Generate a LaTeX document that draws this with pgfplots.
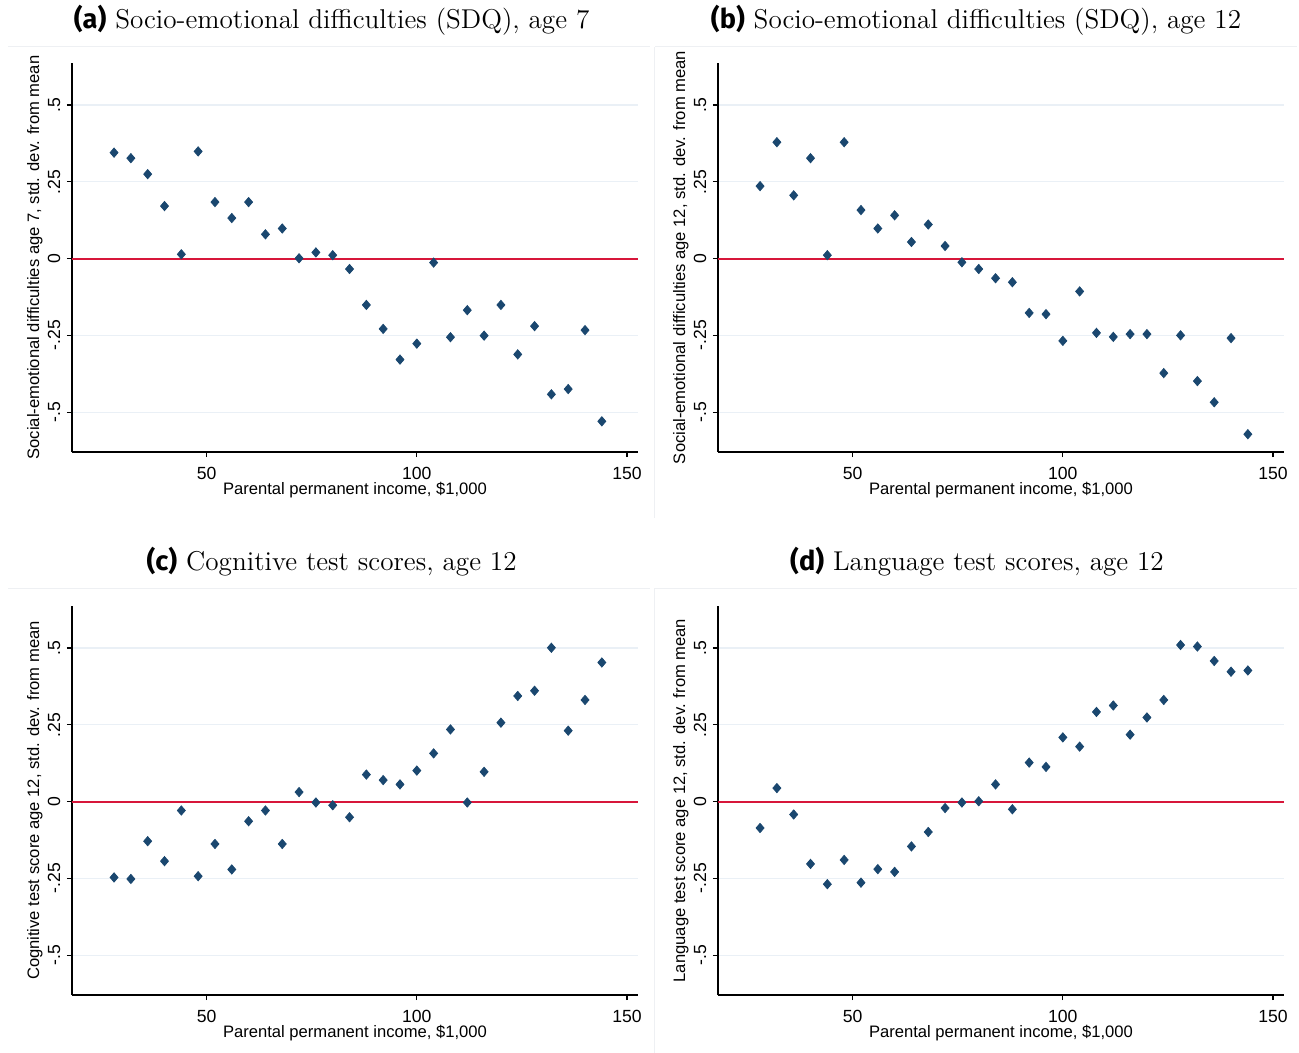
\documentclass[border=0pt]{standalone}
\usepackage{fontspec}
\setsansfont{Liberation Sans}
\newfontfamily\labsans{Fira Sans}
\usepackage{pgfplots}
\pgfplotsset{compat=1.18}
\definecolor{statanavy}{RGB}{26,71,111}
\definecolor{statared}{RGB}{215,22,58}
\definecolor{gridc}{RGB}{234,240,246}
\definecolor{framec}{RGB}{238,240,243}

\pgfplotstableread{
x y
28 0.345
32 0.327
36 0.275
40 0.171
44 0.014
48 0.349
52 0.184
56 0.132
60 0.184
64 0.079
68 0.098
72 0.001
76 0.020
80 0.011
84 -0.034
88 -0.151
92 -0.229
96 -0.329
100 -0.277
104 -0.013
108 -0.256
112 -0.168
116 -0.251
120 -0.151
124 -0.312
128 -0.220
132 -0.442
136 -0.425
140 -0.233
144 -0.530
}\dataA

\pgfplotstableread{
x y
28 0.236
32 0.379
36 0.206
40 0.327
44 0.011
48 0.379
52 0.158
56 0.098
60 0.141
64 0.054
68 0.111
72 0.041
76 -0.012
80 -0.034
84 -0.064
88 -0.077
92 -0.177
96 -0.181
100 -0.268
104 -0.107
108 -0.242
112 -0.255
116 -0.246
120 -0.246
124 -0.373
128 -0.250
132 -0.399
136 -0.468
140 -0.259
144 -0.572
}\dataB

\pgfplotstableread{
x y
28 -0.247
32 -0.252
36 -0.129
40 -0.194
44 -0.029
48 -0.243
52 -0.138
56 -0.221
60 -0.064
64 -0.029
68 -0.138
72 0.031
76 -0.003
80 -0.012
84 -0.051
88 0.088
92 0.070
96 0.056
100 0.101
104 0.157
108 0.235
112 -0.003
116 0.097
120 0.257
124 0.344
128 0.361
132 0.501
136 0.231
140 0.331
144 0.453
}\dataC

\pgfplotstableread{
x y
28 -0.086
32 0.044
36 -0.042
40 -0.203
44 -0.269
48 -0.190
52 -0.264
56 -0.220
60 -0.229
64 -0.146
68 -0.099
72 -0.021
76 -0.003
80 0.001
84 0.056
88 -0.025
92 0.127
96 0.113
100 0.209
104 0.179
108 0.292
112 0.313
116 0.218
120 0.274
124 0.331
128 0.510
132 0.505
136 0.458
140 0.423
144 0.427
}\dataD

\pgfplotstableread{
x y
18 0
152.6 0
}\zero

\pgfplotsset{
  panel/.style={
    scale only axis,
    width=283pt, height=194.5pt,
    anchor=north west,
    xmin=18, xmax=152.6, ymin=-0.63, ymax=0.637,
    axis lines*=left,
    axis line style={black, line width=0.6pt},
    xtick={50,100,150},
    ytick={-0.5,-0.25,0,0.25,0.5},
    yticklabels={-.5,-.25,0,.25,.5},
    /pgf/number format/assume math mode=true,
    tick align=outside,
    major tick length=2.6pt,
    tick style={black, line width=0.6pt},
    ymajorgrids,
    major grid style={gridc, line width=0.6pt},
    ticklabel style={font=\sffamily\fontsize{8.8}{10}\selectfont},
    xticklabel style={inner sep=1pt, yshift=-3.8pt},
    yticklabel style={rotate=90, anchor=south, inner sep=3pt},
    label style={font=\sffamily\fontsize{8.3}{10}\selectfont},
    xlabel={Parental permanent income, \$1,000},
    xlabel style={at={(axis description cs:0.5,-0.097)}, anchor=center},
    ylabel style={at={(axis description cs:-0.0655,0.5)}, anchor=center},
    clip=false,
  },
  zeroline/.style={color=statared, draw=statared, line width=1pt, no marks, forget plot},
  pts/.style={only marks, mark=diamond*, mark size=2.3pt,
    mark options={draw=statanavy, fill=statanavy, xscale=1.15}},
}

\begin{document}
\begin{tikzpicture}
\path[use as bounding box] (0pt,0pt) rectangle (649.5pt,-526.5pt);
% faint frames
\draw[framec, line width=0.5pt] (4pt,-23.5pt) -- (325pt,-23.5pt);
\draw[framec, line width=0.5pt] (327.5pt,-23.5pt) -- (648.5pt,-23.5pt);
\draw[framec, line width=0.5pt] (4pt,-294pt) -- (325pt,-294pt);
\draw[framec, line width=0.5pt] (327.5pt,-294pt) -- (648.5pt,-294pt);
\draw[framec, line width=0.5pt] (327pt,-23.5pt) -- (327pt,-259pt);
\draw[framec, line width=0.5pt] (327pt,-294pt) -- (327pt,-526.5pt);
% titles
\node[font=\fontsize{13.6}{16}\selectfont] at (165.8pt,-10.3pt) {{\labsans\bfseries (a)} Socio-emotional difficulties (SDQ), age 7};
\node[font=\fontsize{13.6}{16}\selectfont] at (488pt,-10.3pt) {{\labsans\bfseries (b)} Socio-emotional difficulties (SDQ), age 12};
\node[font=\fontsize{13.6}{16}\selectfont] at (165.8pt,-280.8pt) {{\labsans\bfseries (c)} Cognitive test scores, age 12};
\node[font=\fontsize{13.6}{16}\selectfont] at (488.5pt,-280.8pt) {{\labsans\bfseries (d)} Language test scores, age 12};

\begin{axis}[panel, at={(36pt,-31.5pt)},
  ylabel={Social-emotional difficulties age 7, std. dev. from mean}]
  \addplot[zeroline] table {\zero};
  \addplot[pts] table {\dataA};
\end{axis}

\begin{axis}[panel, at={(359pt,-31.5pt)},
  ylabel={Social-emotional difficulties age 12, std. dev. from mean}]
  \addplot[zeroline] table {\zero};
  \addplot[pts] table {\dataB};
\end{axis}

\begin{axis}[panel, at={(36pt,-303pt)},
  ylabel={Cognitive test score age 12, std. dev. from mean}]
  \addplot[zeroline] table {\zero};
  \addplot[pts] table {\dataC};
\end{axis}

\begin{axis}[panel, at={(359pt,-303pt)},
  ylabel={Language test score age 12, std. dev. from mean}]
  \addplot[zeroline] table {\zero};
  \addplot[pts] table {\dataD};
\end{axis}
\end{tikzpicture}
\end{document}
